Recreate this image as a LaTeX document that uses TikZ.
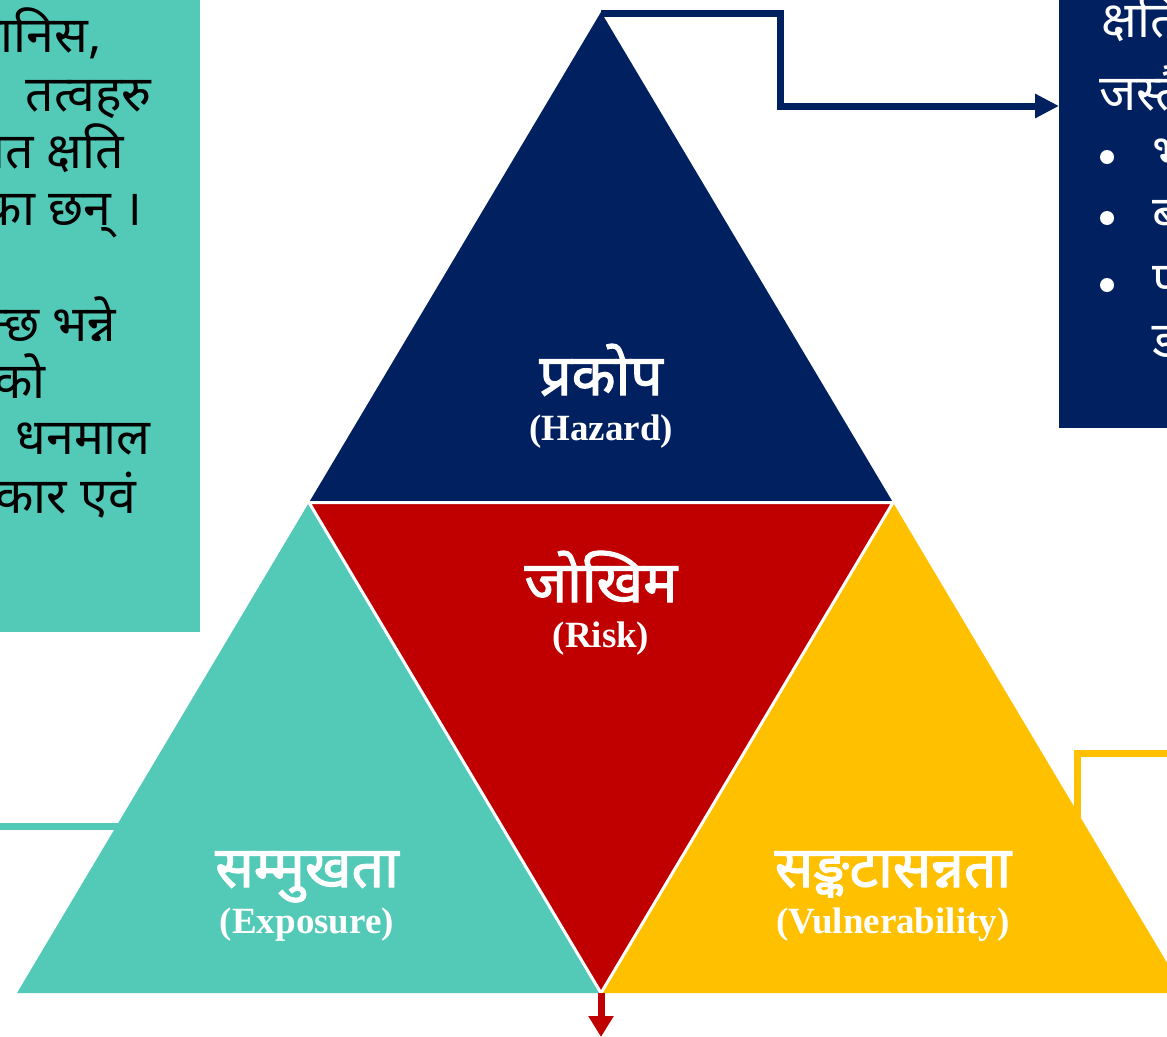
\documentclass[tikz,border=0pt]{standalone}
\usepackage{fontspec}
\newfontfamily\devafont[Script=Devanagari]{Noto Sans}
\newfontfamily\devabold[Script=Devanagari,FakeBold=2]{Noto Sans}
\newfontfamily\engfont{Liberation Serif}
\usetikzlibrary{arrows.meta,positioning}
\definecolor{hazblue}{RGB}{0,32,96}
\definecolor{riskred}{RGB}{192,0,0}
\definecolor{expteal}{RGB}{83,201,183}
\definecolor{vulyellow}{RGB}{255,192,0}

\begin{document}
\begin{tikzpicture}
[x=1pt, y=-1pt, >={Triangle[length=24pt,width=23pt]},
link/.style={line width=7pt},
devname/.style={anchor=base, inner sep=0pt, text=white, font=\devabold\fontsize{57}{60}\selectfont},
engname/.style={anchor=base, inner sep=0pt, text=white, font=\engfont\bfseries\fontsize{37}{40}\selectfont},
expline/.style={anchor=base east, inner sep=0pt, font=\devafont\fontsize{50}{54}\selectfont},
hazline/.style={anchor=base west, inner sep=0pt, text=white, font=\devafont\fontsize{50}{54}\selectfont},
dot/.style={circle, fill=white, inner sep=0pt, minimum size=14pt}]

\useasboundingbox (0,0) rectangle (1167,1036);
\clip (0,0) rectangle (1167,1036);

\coordinate (top) at (601,12);
\coordinate (left) at (17,993);
\coordinate (right) at (1185,993);
\coordinate (ml) at (309,502.5);
\coordinate (mr) at (893,502.5);
\coordinate (mb) at (601,993);

\fill[expteal] (-5,-5) rectangle (200,632);
\fill[hazblue] (1059,-5) rectangle (1180,428);

\node[expline] (e1) at (102,52) {मानिस,};
\node[expline] (e2) at (152,111) {तत्वहरु};
\node[expline] (e3) at (124,168) {सम्भावित क्षति};
\node[expline] (e4) at (143,225) {पुगेका छन् ।};
\node[expline] (e5) at (116,341) {हुन्छ भन्ने};
\node[expline] (e6) at (46,398) {जनताको};
\node[expline] (e7) at (151,454) {धनमाल};
\node[expline] (e8) at (136,513) {प्रकार एवं};

\node[hazline] (h1) at (1101,37) {क्षति पुर्‍याउन};
\node[hazline] (h2) at (1099,110) {जस्तै};
\node[dot] (b1) at (1107,157) {};
\node[dot] (b2) at (1107,218) {};
\node[dot] (b3) at (1107,285) {};
\node[hazline] (h3) at (1152,170) {भूकम्प};
\node[hazline] (h4) at (1152,231) {बाढी};
\node[hazline] (h5) at (1152,297) {पहिरो तथा};
\node[hazline] (h6) at (1152,357) {डढेलो};

\coordinate (hazbend) at (780,106);
\coordinate (hazin) at (1059,106);
\coordinate (riskout) at (601,1037);
\coordinate (expfrom) at (-5,826);
\coordinate (expin) at (140,826);
\coordinate (vulfrom) at (1077,840);
\coordinate (vulto) at (1175,753);

\draw[link, hazblue, ->] (601,13) -| (hazbend) -- (hazin);
\draw[link, expteal] (expfrom) -- (expin);
\draw[link, vulyellow] (vulfrom) |- (vulto);

\fill[hazblue] (top) -- (mr) -- (ml) -- cycle;
\fill[riskred] (ml) -- (mr) -- (mb) -- cycle;
\fill[expteal] (ml) -- (mb) -- (left) -- cycle;
\fill[vulyellow] (mr) -- (right) -- (mb) -- cycle;
\draw[white, line width=3pt] (ml) -- (mr) -- (mb) -- cycle;

\draw[link, riskred, -{Triangle[length=21pt,width=24pt]}] (mb) -- (riskout);

\node[devname] (hazard) at (601,395) {प्रकोप};
\node[engname] (hazardeng) at (601,440) {(Hazard)};
\node[devname] (risk) at (601,602) {जोखिम};
\node[engname] (riskeng) at (601,647) {(Risk)};
\node[devname] (exposure) at (307,887) {सम्मुखता};
\node[engname] (exposureeng) at (307,933) {(Exposure)};
\node[devname] (vulner) at (893,887) {सङ्कटासन्नता};
\node[engname] (vulnereng) at (893,933) {(Vulnerability)};

\end{tikzpicture}
\end{document}
